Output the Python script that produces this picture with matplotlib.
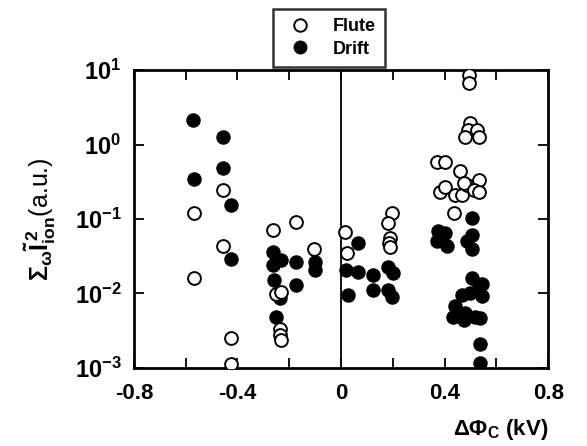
import matplotlib
matplotlib.use('Agg')
import matplotlib.pyplot as plt
from matplotlib.lines import Line2D

plt.rcParams['font.family'] = ['Liberation Sans', 'DejaVu Sans']
plt.rcParams['font.weight'] = 'bold'
plt.rcParams['mathtext.fontset'] = 'custom'
plt.rcParams['mathtext.rm'] = 'Liberation Sans:bold'
plt.rcParams['mathtext.it'] = 'Liberation Sans:bold'
plt.rcParams['mathtext.bf'] = 'Liberation Sans:bold'

# flute mode (open circles)
fluteX = [-0.567, -0.567, -0.455, -0.455, -0.425, -0.425,
          -0.261, -0.173, -0.105, -0.251, -0.231, -0.235, -0.235, -0.232,
          0.017, 0.024, 0.195, 0.180, 0.189, 0.185, 0.189,
          0.495, 0.495, 0.499, 0.492, 0.524, 0.479, 0.531,
          0.370, 0.402, 0.460, 0.383, 0.402, 0.441, 0.466, 0.486, 0.473,
          0.531, 0.512, 0.531, 0.438]
fluteY = [0.119, 0.016, 0.245, 0.044, 0.00255, 0.00112,
          0.071, 0.092, 0.040, 0.0098, 0.0106, 0.0033, 0.00277, 0.0024,
          0.066, 0.035, 0.119, 0.0875, 0.055, 0.047, 0.0426,
          8.6, 6.6, 1.93, 1.57, 1.57, 1.27, 1.27,
          0.59, 0.59, 0.44, 0.233, 0.27, 0.21, 0.21, 0.286, 0.30,
          0.334, 0.245, 0.233, 0.12]

# drift mode (filled circles)
driftX = [-0.571, -0.569, -0.455, -0.455, -0.425, -0.425,
          -0.261, -0.231, -0.261, -0.173, -0.102, -0.102, -0.257, -0.173, -0.235, -0.253,
          0.066, 0.021, 0.066, 0.027, 0.124, 0.124, 0.182, 0.200, 0.182, 0.195,
          0.505, 0.376, 0.402, 0.370, 0.408, 0.486, 0.505, 0.505,
          0.505, 0.531, 0.466, 0.441, 0.434, 0.479, 0.473, 0.518, 0.499,
          0.537, 0.537, 0.545, 0.545, 0.535]
driftY = [2.13, 0.34, 1.25, 0.49, 0.154, 0.0288,
          0.0365, 0.028, 0.024, 0.0267, 0.0267, 0.0207, 0.0152, 0.013, 0.0086, 0.0049,
          0.047, 0.0207, 0.0196, 0.0095, 0.0177, 0.011, 0.023, 0.0186, 0.011, 0.0091,
          0.102, 0.068, 0.064, 0.050, 0.043, 0.050, 0.061, 0.040,
          0.016, 0.0124, 0.0095, 0.0067, 0.0049, 0.0054, 0.0044, 0.0049, 0.010,
          0.0021, 0.00118, 0.0135, 0.0092, 0.0047]

xTicks = [-0.8, -0.4, 0, 0.4, 0.8]
xTickLabels = ['-0.8', '-0.4', '0', '0.4', '0.8']
xMinorTicks = [-0.6, -0.2, 0.2, 0.6]
yTicks = [1e-3, 1e-2, 1e-1, 1e0, 1e1]
yTickLabels = [r'$10^{-3}$', r'$10^{-2}$', r'$10^{-1}$', r'$10^{0}$', r'$10^{1}$']

figure = plt.figure(figsize=(5.87, 4.46), dpi=100)
axes = figure.add_axes([0.228, 0.175, 0.706, 0.668])

axes.scatter(driftX, driftY, s=85, facecolor='black', edgecolor='black', linewidth=1.2, zorder=3)
axes.scatter(fluteX, fluteY, s=85, facecolor='white', edgecolor='black', linewidth=1.4, zorder=4)

axes.axvline(0, color='black', linewidth=1.3, zorder=2)

axes.set_yscale('log')
axes.set_xlim(-0.8, 0.8)
axes.set_ylim(1e-3, 1e1)

axes.set_xticks(xTicks)
axes.set_xticklabels(xTickLabels, fontsize=16)
axes.set_xticks(xMinorTicks, minor=True)
axes.tick_params(axis='x', which='both', direction='in', top=True, length=7, width=1.3, pad=11)

axes.set_yticks(yTicks)
axes.set_yticklabels(yTickLabels, fontsize=17)
axes.yaxis.set_minor_locator(matplotlib.ticker.NullLocator())
axes.tick_params(axis='y', direction='in', right=True, length=7, width=1.3, pad=9)

for spine in axes.spines.values():
    spine.set_linewidth(2)

axes.set_ylabel(r'$\Sigma_{\omega}\tilde{I}_{ion}^{\,2}$(a.u.)', fontsize=18, labelpad=12)
figure.text(0.934, 0.01, r'$\Delta\Phi_C$ (kV)', fontsize=16, ha='right', va='bottom')

handles = [Line2D([], [], marker='o', linestyle='', markersize=9, markerfacecolor='white',
                  markeredgecolor='black', markeredgewidth=1.4),
           Line2D([], [], marker='o', linestyle='', markersize=9, markerfacecolor='black',
                  markeredgecolor='black')]
legend = figure.legend(handles, ['Flute', 'Drift'], loc='center', bbox_to_anchor=(0.56, 0.915),
                       fontsize=13, frameon=True, fancybox=False, edgecolor='black',
                       handletextpad=0.8, borderpad=0.5, labelspacing=0.3)
legend.get_frame().set_linewidth(1.8)

figure.savefig('out.png', dpi=100)
